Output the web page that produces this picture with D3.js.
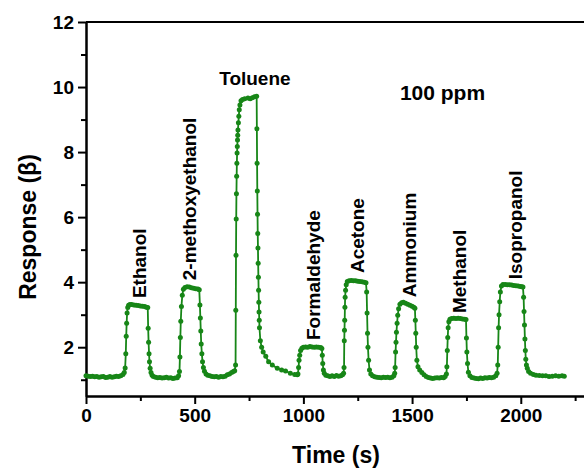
<!DOCTYPE html>
<html lang="en">
<head>
<meta charset="utf-8">
<title>Gas response</title>
<script src="https://cdn.jsdelivr.net/npm/d3@7"></script>
<style>
  html, body { margin: 0; padding: 0; background: white; }
  svg { display: block; font-family: "Liberation Sans", Arial, sans-serif; font-weight: bold; }
  .axis path, .axis line { stroke: black; stroke-width: 2px; }
  .axis text { font-size: 19px; font-weight: bold; fill: black; }
  .gas-label { font-size: 19px; fill: black; }
</style>
</head>
<body>
<svg id="chart" width="584" height="469"></svg>
<script>
// ---- data ----
var time = [
  0,10,20,30,40,50,60,70,80,90,100,110,120,130,140,150,160,170,176,180,
  183,185,187,189,192,196,202,
  210,220,230,240,250,260,270,278,284,
  286,288,290,292,295,299,304,310,
  320,330,340,350,360,370,380,390,400,410,420,426,
  430,432,434,436,439,443,448,455,
  465,475,485,495,505,515,521,
  524,526,528,530,533,536,540,545,552,560,
  570,580,590,600,610,620,630,640,650,660,670,678,684,
  688,689,690,691,692,693,694,695,696,697,698,699,701,703,705,708,713,720,730,745,755,765,775,785,
  786,787,788,789,790,791,792,793,794,795,796,797,798,802,808,815,827,840,857,880,900,918,940,960,972,
  975,978,980,983,987,993,1000,1010,1020,1030,1040,1050,1060,1070,1080,1085,
  1087,1089,1092,1096,1103,1112,
  1122,1132,1142,1152,1162,1172,1180,1185,
  1187,1188,1189,1190,1191,1192,1194,1197,1202,
  1210,1220,1230,1240,1250,1260,1270,1280,1288,
  1291,1293,1295,1297,1300,1304,1310,1318,
  1328,1338,1348,1358,1368,1378,1388,1398,1408,1416,1420,
  1422,1424,1426,1428,1431,1434,1438,1444,1452,1460,
  1470,1480,1490,1500,1508,1513,
  1515,1517,1519,1522,1527,1535,1545,1555,
  1565,1575,1585,1595,1605,1615,1625,1635,1645,1652,1658,
  1660,1662,1664,1666,1669,1674,
  1682,1692,1702,1712,1722,1732,1742,1748,
  1750,1752,1755,1759,1766,1775,
  1785,1795,1805,1815,1825,1835,1845,1855,1865,1875,1885,1891,
  1894,1896,1898,1900,1903,1906,1911,1918,
  1928,1938,1948,1958,1968,1978,1988,1998,2005,2010,
  2013,2015,2017,2019,2021,2023,2026,2030,2036,2045,2058,
  2070,2085,2100,2115,2130,2145,2160,2175,2190,2200
];

var response = [
  1.12,1.11,1.10,1.11,1.09,1.10,1.08,1.09,1.10,1.07,1.08,1.10,1.08,1.09,1.11,1.10,1.12,1.16,1.22,1.36,
  1.80,2.34,2.74,3.05,3.22,3.29,3.31,
  3.31,3.30,3.29,3.28,3.27,3.26,3.25,3.23,3.22,
  2.58,2.15,1.80,1.55,1.35,1.22,1.14,1.10,
  1.08,1.06,1.07,1.05,1.06,1.08,1.05,1.06,1.04,1.05,1.06,1.12,
  1.25,1.70,2.30,2.80,3.25,3.60,3.78,3.84,
  3.86,3.85,3.83,3.81,3.80,3.79,3.77,
  3.30,2.90,2.50,2.10,1.80,1.55,1.38,1.26,1.18,1.14,
  1.12,1.10,1.09,1.10,1.08,1.10,1.09,1.11,1.15,1.18,1.22,1.25,1.28,
  1.45,3.14,4.83,5.94,6.72,7.26,7.66,7.97,8.17,8.37,8.52,8.68,8.90,9.10,9.30,9.45,9.58,9.62,9.64,9.66,9.64,9.67,9.70,9.72,
  8.72,7.66,6.80,6.09,5.50,5.05,4.58,4.15,3.75,3.38,3.08,2.83,2.60,2.20,2.00,1.85,1.72,1.55,1.45,1.35,1.30,1.27,1.20,1.16,1.15,
  1.18,1.38,1.60,1.75,1.90,1.97,2.00,2.01,2.00,2.02,2.01,2.00,2.01,2.00,1.99,1.96,
  1.75,1.50,1.30,1.20,1.14,1.12,
  1.10,1.12,1.10,1.13,1.11,1.12,1.15,1.20,
  1.38,2.20,2.52,2.83,3.23,3.54,3.75,3.92,4.02,
  4.04,4.05,4.04,4.04,4.03,4.02,4.01,4.00,3.98,
  3.70,3.05,2.43,2.00,1.60,1.30,1.18,1.12,
  1.09,1.08,1.07,1.06,1.08,1.07,1.08,1.06,1.08,1.12,1.20,
  1.38,1.85,2.15,2.46,2.74,2.98,3.18,3.32,3.37,3.38,
  3.35,3.32,3.29,3.26,3.23,3.20,
  2.83,2.43,2.00,1.60,1.40,1.30,1.22,1.15,
  1.10,1.07,1.05,1.04,1.05,1.06,1.05,1.07,1.06,1.10,1.18,
  1.40,1.90,2.30,2.60,2.78,2.86,
  2.88,2.89,2.88,2.89,2.88,2.87,2.86,2.85,
  2.28,1.85,1.50,1.23,1.12,1.07,
  1.05,1.04,1.03,1.05,1.04,1.06,1.05,1.07,1.06,1.08,1.12,1.20,
  1.45,2.00,2.60,3.00,3.40,3.70,3.88,3.93,
  3.93,3.92,3.92,3.91,3.90,3.89,3.88,3.87,3.86,3.85,
  3.54,3.10,2.68,2.25,1.90,1.63,1.45,1.35,1.25,1.20,1.16,
  1.14,1.13,1.12,1.12,1.10,1.11,1.12,1.11,1.12,1.11
];

// gas labels: name, time and response where the text starts
var gasNames  = ["Ethanol", "2-methoxyethanol", "Formaldehyde", "Acetone", "Ammonium", "Methanol", "Isopropanol"];
var gasTime   = [244, 476, 1044, 1247, 1488, 1718, 1976];
var gasLevel  = [3.51, 4.06, 2.22, 4.28, 3.54, 3.05, 4.09];

var xMajor = [0, 500, 1000, 1500, 2000];
var xMinor = [250, 750, 1250, 1750, 2250];
var yMajor = [2, 4, 6, 8, 10, 12];
var yMinor = [1, 3, 5, 7, 9, 11];

// ---- layout ----
var plotLeft = 86, plotRight = 586, plotTop = 22, plotBottom = 396;
var green = "#178617";

var svg = d3.select("#chart");

var x = d3.scaleLinear().domain([0, 2300]).range([plotLeft, plotRight]);
var y = d3.scaleLinear().domain([0.5, 12]).range([plotBottom, plotTop]);

// top frame line
svg.append("line")
  .attr("x1", plotLeft).attr("x2", 584)
  .attr("y1", plotTop).attr("y2", plotTop)
  .style("stroke", "black").style("stroke-width", "2px");

// x axis
svg.append("g").attr("class", "axis")
  .attr("transform", "translate(0," + plotBottom + ")")
  .call(d3.axisBottom(x).tickValues(xMajor).tickFormat(d3.format("d"))
    .tickSize(8).tickSizeOuter(0).tickPadding(5));
svg.append("g").attr("class", "axis")
  .attr("transform", "translate(0," + plotBottom + ")")
  .call(d3.axisBottom(x).tickValues(xMinor).tickSize(5).tickSizeOuter(0).tickFormat(""));

// y axis
svg.append("g").attr("class", "axis")
  .attr("transform", "translate(" + plotLeft + ",0)")
  .call(d3.axisLeft(y).tickValues(yMajor).tickSize(8).tickSizeOuter(0).tickPadding(4));
svg.append("g").attr("class", "axis")
  .attr("transform", "translate(" + plotLeft + ",0)")
  .call(d3.axisLeft(y).tickValues(yMinor).tickSize(5).tickSizeOuter(0).tickFormat(""));

// axis titles
svg.append("text")
  .attr("x", 336).attr("y", 463)
  .attr("text-anchor", "middle")
  .style("font-size", "23px")
  .text("Time (s)");

svg.append("text")
  .attr("transform", "translate(36,227) rotate(-90)")
  .attr("text-anchor", "middle")
  .style("font-size", "23px")
  .text("Response (β)");

// response curve
var points = time.map(function (t, i) { return [t, response[i]]; });

svg.append("path")
  .datum(points)
  .attr("d", d3.line().x(function (d) { return x(d[0]); }).y(function (d) { return y(d[1]); }))
  .style("fill", "none")
  .style("stroke", green)
  .style("stroke-width", "1.8px");

svg.append("g").selectAll("circle")
  .data(points)
  .enter().append("circle")
  .attr("cx", function (d) { return x(d[0]); })
  .attr("cy", function (d) { return y(d[1]); })
  .attr("r", 2.5)
  .style("fill", green);

// gas labels (vertical)
svg.append("g").selectAll("text")
  .data(gasNames)
  .enter().append("text")
  .attr("class", "gas-label")
  .attr("transform", function (d, i) {
    return "translate(" + x(gasTime[i]) + "," + y(gasLevel[i]) + ") rotate(-90)";
  })
  .attr("dy", "0.35em")
  .text(function (d) { return d; });

// toluene label sits horizontally over its peak
svg.append("text")
  .attr("class", "gas-label")
  .attr("x", x(777)).attr("y", y(10.06))
  .attr("text-anchor", "middle")
  .text("Toluene");

svg.append("text")
  .attr("x", x(1640)).attr("y", y(9.6))
  .attr("text-anchor", "middle")
  .style("font-size", "21px")
  .text("100 ppm");
</script>
</body>
</html>
